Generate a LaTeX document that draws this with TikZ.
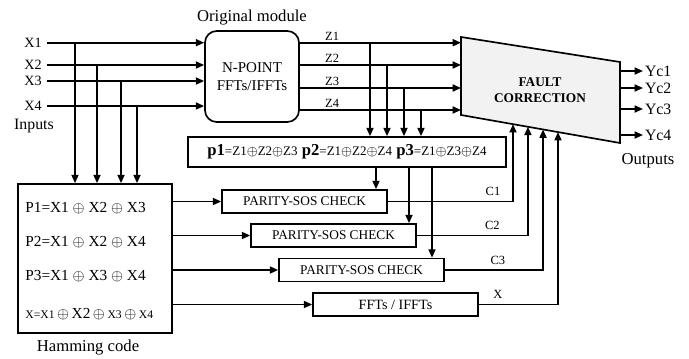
\documentclass[tikz,border=0pt]{standalone}
\usepackage{fontspec}
\setmainfont{Liberation Serif}
\usetikzlibrary{arrows.meta,positioning,calc}
\definecolor{fcgray}{HTML}{F2F2F2}
\newcommand{\pbit}[2]{{\fontsize{10}{12}\selectfont\bfseries #1}{\fontsize{7.8}{9}\selectfont=#2}}
\newcommand{\smx}[1]{{\fontsize{7}{8}\selectfont #1}}

\begin{document}
\begin{tikzpicture}[x=0.6pt,y=-0.6pt,
  box/.style={rectangle,draw,line width=1pt,inner sep=0pt,align=center},
  chk/.style={box,minimum width=99pt,minimum height=13.8pt,font=\fontsize{8}{9.6}\selectfont},
  lbl/.style={inner sep=1pt,font=\fontsize{9.5}{11}\selectfont},
  sig/.style={inner sep=1pt,font=\fontsize{7.5}{9}\selectfont},
  hline/.style={anchor=west,inner sep=0pt,font=\fontsize{9.2}{11}\selectfont},
  arr/.style={-{Triangle[length=5pt,width=4.2pt]},line width=1pt},
  ln/.style={line width=1pt}
]
\useasboundingbox (0,0) rectangle (689,358);

% original module
\node[box,rounded corners=7pt,minimum width=56.4pt,minimum height=54.6pt,font=\fontsize{9}{11}\selectfont] (mod) at (252,76.5) {N-POINT\\FFTs/IFFTs};
\node[lbl,font=\fontsize{10}{12}\selectfont] (modt) at (252,18) {Original module};

% inputs
\foreach \i/\yy in {1/42.7,2/65,3/81,4/106} {
  \node[lbl,anchor=east,inner sep=3pt,font=\fontsize{8.5}{10}\selectfont] (x\i) at (47,\yy) {X\i};
  \draw[arr] (x\i.east) -- (x\i.east -| mod.west);
}
\node[lbl] (inp) at (34,126) {Inputs};

% hamming code
\node[box,minimum width=92.4pt,minimum height=89.4pt] (ham) at (95,258.5) {};
\node[lbl,font=\fontsize{10}{12}\selectfont] (hamt) at (88,348) {Hamming code};
\node[hline] (h1) at (25,208) {P1=X1 $\oplus$ X2 $\oplus$ X3};
\node[hline] (h2) at (25,242) {P2=X1 $\oplus$ X2 $\oplus$ X4};
\node[hline] (h3) at (25,276) {P3=X1 $\oplus$ X3 $\oplus$ X4};
\node[hline] (h4) at (25,314) {\smx{X=X1}\,$\oplus$\,X2\,$\oplus$\,\smx{X3}\,$\oplus$\,\smx{X4}};
\foreach \i/\xx in {1/75,2/97,3/121,4/137}
  \draw[arr] (\xx,0 |- x\i) -- (\xx,0 |- ham.north);

% checks
\node[chk] (par1) at (304.5,201.5) {PARITY-SOS CHECK};
\node[chk] (par2) at (333.5,235.5) {PARITY-SOS CHECK};
\node[chk] (par3) at (361.5,270) {PARITY-SOS CHECK};
\node[chk,font=\fontsize{8.5}{10}\selectfont] (fft) at (395.5,304.5) {FFTs / IFFTs};
\foreach \n in {par1,par2,par3,fft}
  \draw[arr] (\n.west -| ham.east) -- (\n.west);

% parity of outputs
\node[box,minimum width=190.8pt,minimum height=18pt] (pb) at (347,152)
  {\pbit{p1}{Z1$\oplus$Z2$\oplus$Z3} \pbit{p2}{Z1$\oplus$Z2$\oplus$Z4} \pbit{p3}{Z1$\oplus$Z3$\oplus$Z4}};

% fault correction
\coordinate (ftl) at (461,37);
\coordinate (ftr) at (620,62);
\coordinate (fbr) at (620,143);
\coordinate (fbl) at (461,115);
\draw[ln,fill=fcgray] (ftl) -- (ftr) -- (fbr) -- (fbl) -- cycle;
\node[align=center,font=\bfseries\fontsize{8}{9.6}\selectfont] (fc) at (540,90) {FAULT\\CORRECTION};

% module outputs
\foreach \i/\yy in {1/42.7,2/65,3/88,4/110} {
  \coordinate (z\i) at (0,\yy -| mod.east);
  \draw[arr] (z\i) -- node[sig,above,pos=0.2] (lz\i) {Z\i} (z\i -| ftl);
}
\foreach \i/\xx in {1/370,2/387,3/404,4/421}
  \draw[arr] (\xx,0 |- z\i) -- (\xx,0 |- pb.north);
\foreach \n/\xx in {par1/376,par2/409,par3/432}
  \draw[arr] (pb.south -| \xx,0) -- (\xx,0 |- \n.north);

% corrected outputs
\foreach \i/\yy in {1/71,2/88,3/109,4/135} {
  \node[lbl,anchor=west] (yc\i) at (643,\yy) {Yc\i};
  \draw[arr] (yc\i.west -| ftr) -- (yc\i.west);
}
\node[lbl,font=\fontsize{10}{12}\selectfont] (outp) at (648,161) {Outputs};

% check results
\coordinate (cin1) at ($(fbl)!0.327!(fbr)$);
\coordinate (cin2) at ($(fbl)!0.421!(fbr)$);
\coordinate (cin3) at ($(fbl)!0.516!(fbr)$);
\coordinate (cin4) at ($(fbl)!0.610!(fbr)$);
\draw[arr] (par1.east) -| node[sig,above=2pt,pos=0.42] (lc1) {C1} (cin1);
\draw[arr] (par2.east) -| node[sig,above=2pt,pos=0.34] (lc2) {C2} (cin2);
\draw[arr] (par3.east) -| node[sig,above=2pt,pos=0.27] (lc3) {C3} (cin3);
\draw[arr] (fft.east) -| node[sig,above=2pt,pos=0.12] (lx) {X} (cin4);
\end{tikzpicture}
\end{document}
